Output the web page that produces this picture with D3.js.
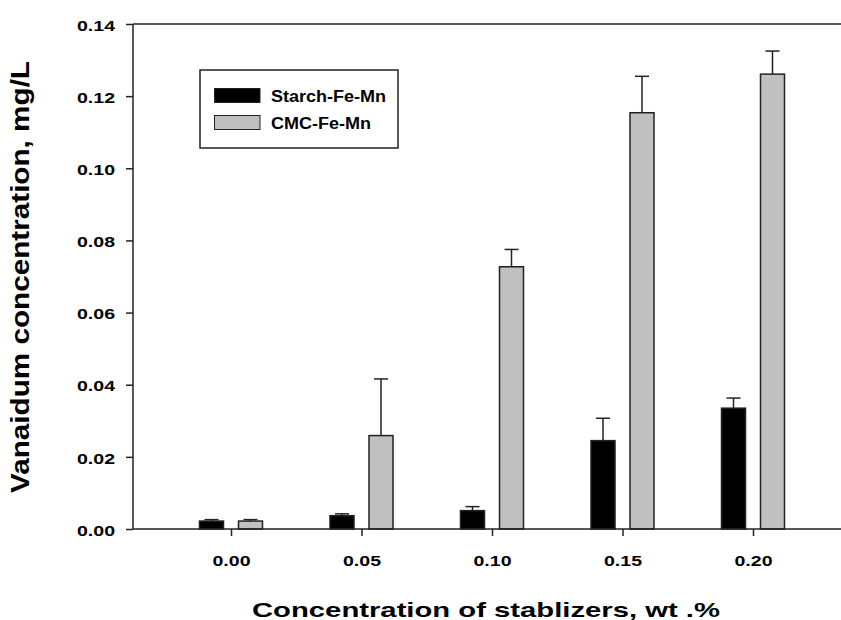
<!DOCTYPE html>
<html><head><meta charset="utf-8">
<script src="https://cdn.jsdelivr.net/npm/d3@7"></script>
<style>body{margin:0;background:#fff}svg{display:block}text{font-family:"Liberation Sans",Arial,sans-serif;font-weight:bold}</style>
</head><body><svg id="c" width="841" height="620"></svg>
<script>
const categories = ["0.00","0.05","0.10","0.15","0.20"];
const starchValues = [0.0022,0.0037,0.0051,0.0245,0.0335];
const starchErrors = [0.0004,0.0005,0.0011,0.0062,0.0028];
const cmcValues = [0.0022,0.0259,0.0727,0.1154,0.1261];
const cmcErrors = [0.0004,0.0157,0.0048,0.0101,0.0064];
const yTicks = [0,0.02,0.04,0.06,0.08,0.10,0.12,0.14];
const seriesNames = ["Starch-Fe-Mn","CMC-Fe-Mn"];
const seriesColors = ["#000000","#c0c0c0"];

const svg = d3.select("#c");
const L=133, R=851, T=24, B=529;
const x = d3.scalePoint().domain(categories).range([231,753]);
const y = d3.scaleLinear().domain([0,0.14]).range([B,T]);
const bw = 24, off = 19.5;

const series = [
  {vals: starchValues, errs: starchErrors, color: seriesColors[0], dx: -off},
  {vals: cmcValues, errs: cmcErrors, color: seriesColors[1], dx: off}
];
series.forEach(s=>{
  const g = svg.append("g");
  categories.forEach((c,i)=>{
    const cx = x(c)+s.dx;
    const top = y(s.vals[i]+s.errs[i]);
    g.append("line").attr("x1",cx).attr("x2",cx).attr("y1",y(s.vals[i])).attr("y2",top).attr("stroke","#222").attr("stroke-width",1.5);
    g.append("line").attr("x1",cx-7).attr("x2",cx+7).attr("y1",top).attr("y2",top).attr("stroke","#222").attr("stroke-width",1.5);
    g.append("rect").attr("x",cx-bw/2).attr("y",y(s.vals[i])).attr("width",bw).attr("height",B-y(s.vals[i]))
      .attr("fill",s.color).attr("stroke","#222").attr("stroke-width",1.5);
  });
});

// frame
svg.append("line").attr("x1",L).attr("x2",R).attr("y1",T).attr("y2",T).attr("stroke","#222").attr("stroke-width",1.5);
// y axis
const ya = svg.append("g").attr("transform",`translate(${L},0)`)
  .call(d3.axisLeft(y).tickValues(yTicks).tickFormat(d3.format(".2f")).tickSize(7).tickPadding(11));
ya.select(".domain").attr("d",`M0,${B}V${T}`).attr("stroke","#222").attr("stroke-width",1.5);
ya.selectAll(".tick line").attr("stroke","#222").attr("stroke-width",1.5);
ya.selectAll("text").attr("font-size",15.5).attr("fill","#000").attr("dy","0.4em")
  .attr("textLength",38).attr("lengthAdjust","spacingAndGlyphs");
// x axis
const xa = svg.append("g").attr("transform",`translate(0,${B})`)
  .call(d3.axisBottom(x).tickSize(7).tickPadding(20));
xa.select(".domain").attr("d",`M${L},0H${R}`).attr("stroke","#222").attr("stroke-width",1.5);
xa.selectAll(".tick line").attr("stroke","#222").attr("stroke-width",1.5);
xa.selectAll("text").attr("font-size",15.5).attr("fill","#000").attr("dy",0).attr("y",37)
  .attr("textLength",38).attr("lengthAdjust","spacingAndGlyphs");

// titles
svg.append("text").attr("x",486).attr("y",617).attr("font-size",21).attr("text-anchor","middle")
  .attr("textLength",468).attr("lengthAdjust","spacingAndGlyphs").text("Concentration of stablizers, wt .%");
svg.append("text").attr("transform","translate(29,277) rotate(-90)").attr("font-size",26).attr("text-anchor","middle")
  .attr("textLength",432).attr("lengthAdjust","spacingAndGlyphs").text("Vanaidum concentration, mg/L");

// legend
const lg = svg.append("g");
lg.append("rect").attr("x",200).attr("y",70).attr("width",198).attr("height",78).attr("fill","#fff").attr("stroke","#222").attr("stroke-width",1.5);
const legLen = [115,100];
seriesNames.forEach((n,i)=>{
  const yy = i===0?88.5:115.5;
  lg.append("rect").attr("x",214.5).attr("y",yy).attr("width",45.5).attr("height",14).attr("fill",seriesColors[i]).attr("stroke","#222").attr("stroke-width",1);
  lg.append("text").attr("x",271).attr("y",yy+13).attr("font-size",16)
    .attr("textLength",legLen[i]).attr("lengthAdjust","spacingAndGlyphs").text(n);
});
</script></body></html>
